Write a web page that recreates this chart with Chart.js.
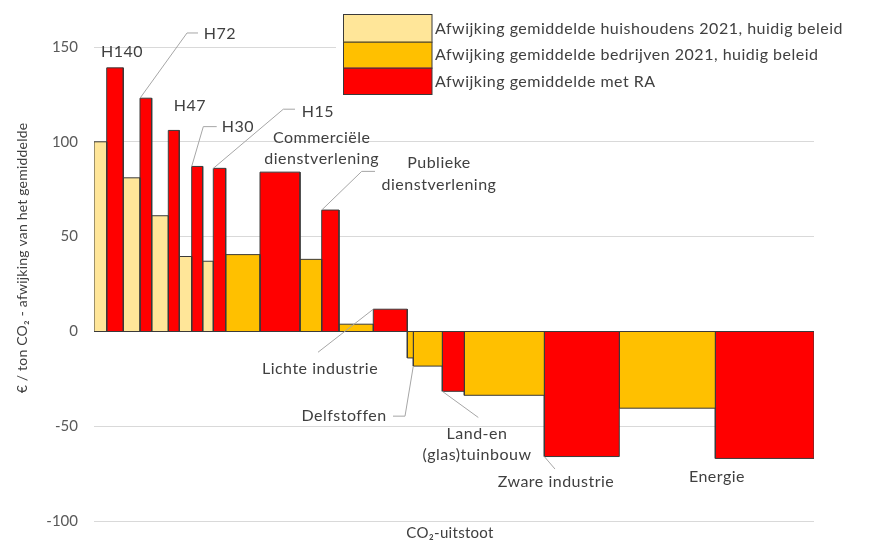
<!DOCTYPE html>
<html><head><meta charset="utf-8">
<script src="https://cdn.jsdelivr.net/npm/chart.js@4.4.0/dist/chart.umd.min.js"></script>
<style>html,body{margin:0;padding:0;background:#fff;}#wrap{width:883px;height:546px;}</style>
</head><body><div id="wrap"><canvas id="c" width="883" height="546"></canvas></div>
<script>
// Series (legend)
const seriesNames = ['Afwijking gemiddelde huishoudens 2021, huidig beleid','Afwijking gemiddelde bedrijven 2021, huidig beleid','Afwijking gemiddelde met RA'];
const seriesColors = ['#FFE699','#FFC000','#FF0000'];
// Bars in order along the x axis (CO2-uitstoot): series index, width (relative CO2 emission), value (EUR/ton CO2)
const barSeries = [0,2,0,2,0,2,0,2,0,2,1,2,1,2,1,2,1,1,2,1,2,1,2];
const barWidths = [12.7,16.6,16.7,11.7,16.6,11,12.4,11,10.6,12.4,34.3,40,21.7,17.3,34.3,34,6,29,22,80,75,96,98.7];
const barValues = [100,139,81,123,61,106,39.5,87,37,86,40.5,84,38,64,3.8,11.7,-14,-18.3,-31.6,-33.7,-66,-40.5,-67];
const yTicks = [-100,-50,0,50,100,150];
const yTitle = '€ / ton CO₂ - afwijking van het gemiddelde';
const xTitle = 'CO₂-uitstoot';
// Category labels (data coordinates), optional leader line from a bar corner
const annotations = [
 {lines:['H140'], x:28, y:147.4},
 {lines:['H72'], x:126, y:156.8, from:3, path:[[93,157.4],[104,157.4]]},
 {lines:['H47'], x:96, y:119},
 {lines:['H30'], x:144, y:108, from:7, path:[[109.3,108],[122.7,108]]},
 {lines:['H15'], x:224, y:115.8, from:9, path:[[189.3,117.2],[201,117.2]]},
 {lines:['Commerciële','dienstverlening'], x:227.7, y:96.6},
 {lines:['Publieke','dienstverlening'], x:345, y:83.2, from:13, path:[[267.7,84.4],[281,84.4]]},
 {lines:['Lichte industrie'], x:226, y:-19.5, from:15, path:[[224,-11]]},
 {lines:['Delfstoffen'], x:250, y:-44.7, from:17, path:[[311,-44.7],[299,-44.7]]},
 {lines:['Land-en','(glas)tuinbouw'], x:383, y:-59.5, from:18, path:[[384.3,-45.4]]},
 {lines:['Zware industrie'], x:462, y:-79.5, from:20, path:[[461,-72.6]]},
 {lines:['Energie'], x:623, y:-76.8}
];

const FONT = 'Lato, "Open Sans", sans-serif';
const starts = [];
let acc = 0;
barWidths.forEach(w => { starts.push(acc); acc += w; });
const totalWidth = acc;

const datasets = barValues.map((v, i) => {
  const x0 = starts[i], x1 = starts[i] + barWidths[i];
  return {
    label: seriesNames[barSeries[i]],
    data: [{x:x0,y:0},{x:x0,y:v},{x:x1,y:v},{x:x1,y:0}],
    backgroundColor: seriesColors[barSeries[i]],
    borderColor: '#3a3a3a',
    borderWidth: 1,
    pointRadius: 0,
    tension: 0,
    fill: 'origin'
  };
});

function setSpacing(ctx, px) { if ('letterSpacing' in ctx) ctx.letterSpacing = px + 'px'; }

const drawPlugin = {
  id: 'drawExtras',
  afterDatasetsDraw(chart) {
    const ctx = chart.ctx, xs = chart.scales.x, ys = chart.scales.y;
    ctx.save();
    // zero axis line (bar bottoms)
    const y0 = Math.round(ys.getPixelForValue(0)) + 0.5;
    ctx.strokeStyle = '#3a3a3a';
    ctx.lineWidth = 1;
    ctx.beginPath();
    ctx.moveTo(xs.getPixelForValue(0), y0);
    ctx.lineTo(xs.getPixelForValue(totalWidth), y0);
    ctx.stroke();
    // leader lines
    ctx.strokeStyle = '#a6a6a6';
    annotations.forEach(a => {
      if (a.from === undefined) return;
      ctx.beginPath();
      ctx.moveTo(xs.getPixelForValue(starts[a.from]), ys.getPixelForValue(barValues[a.from]));
      a.path.forEach(p => ctx.lineTo(xs.getPixelForValue(p[0]), ys.getPixelForValue(p[1])));
      ctx.stroke();
    });
    // label texts
    ctx.fillStyle = '#404040';
    ctx.font = '16px ' + FONT;
    setSpacing(ctx, 0.5);
    ctx.textAlign = 'center';
    ctx.textBaseline = 'middle';
    annotations.forEach(a => {
      const cx = xs.getPixelForValue(a.x), cy = ys.getPixelForValue(a.y);
      const lh = 21.5, n = a.lines.length;
      a.lines.forEach((t, k) => ctx.fillText(t, cx, cy + (k - (n - 1) / 2) * lh));
    });
    ctx.restore();
  },
  afterDraw(chart) {
    const ctx = chart.ctx, area = chart.chartArea;
    ctx.save();
    // legend
    ctx.fillStyle = '#fff';
    ctx.fillRect(336, 10, 530, 88);
    const rows = [[14, 41.7], [41.7, 67.7], [67.7, 94]];
    rows.forEach((r, i) => {
      ctx.fillStyle = seriesColors[i];
      ctx.fillRect(343.5, r[0], 88.5, r[1] - r[0]);
      ctx.strokeStyle = '#3a3a3a';
      ctx.lineWidth = 1;
      ctx.strokeRect(343.5, r[0] + 0.5, 88.5, r[1] - r[0]);
      ctx.fillStyle = '#404040';
      ctx.font = '16px ' + FONT;
      setSpacing(ctx, 0.5);
      ctx.textAlign = 'left';
      ctx.textBaseline = 'middle';
      ctx.fillText(seriesNames[i], 435, (r[0] + r[1]) / 2 + 0.5);
    });
    // axis titles
    ctx.fillStyle = '#404040';
    ctx.font = '15px ' + FONT;
    setSpacing(ctx, 0.3);
    ctx.textAlign = 'center';
    ctx.textBaseline = 'middle';
    ctx.fillText(xTitle, (area.left + area.right) / 2 - 4, 533);
    ctx.font = '14px ' + FONT;
    setSpacing(ctx, 0.2);
    ctx.translate(22, 258);
    ctx.rotate(-Math.PI / 2);
    ctx.fillText(yTitle, 0, 0);
    ctx.restore();
  }
};

new Chart(document.getElementById('c'), {
  type: 'line',
  data: { datasets },
  options: {
    responsive: false,
    devicePixelRatio: 1,
    animation: false,
    events: [],
    layout: { padding: { left: 0, right: 69, top: 47, bottom: 24 } },
    plugins: { legend: { display: false }, tooltip: { enabled: false } },
    scales: {
      x: { type: 'linear', min: 0, max: totalWidth, display: false },
      y: {
        min: -100, max: 150,
        afterFit(s) { s.width = 94; },
        afterBuildTicks(s) { s.ticks = yTicks.map(v => ({ value: v })); },
        grid: { color: '#d9d9d9', drawTicks: false, lineWidth: 1 },
        border: { display: false },
        ticks: { padding: 16, color: '#595959', font: { family: FONT, size: 15 } }
      }
    }
  },
  plugins: [drawPlugin]
});
</script>
</body></html>
